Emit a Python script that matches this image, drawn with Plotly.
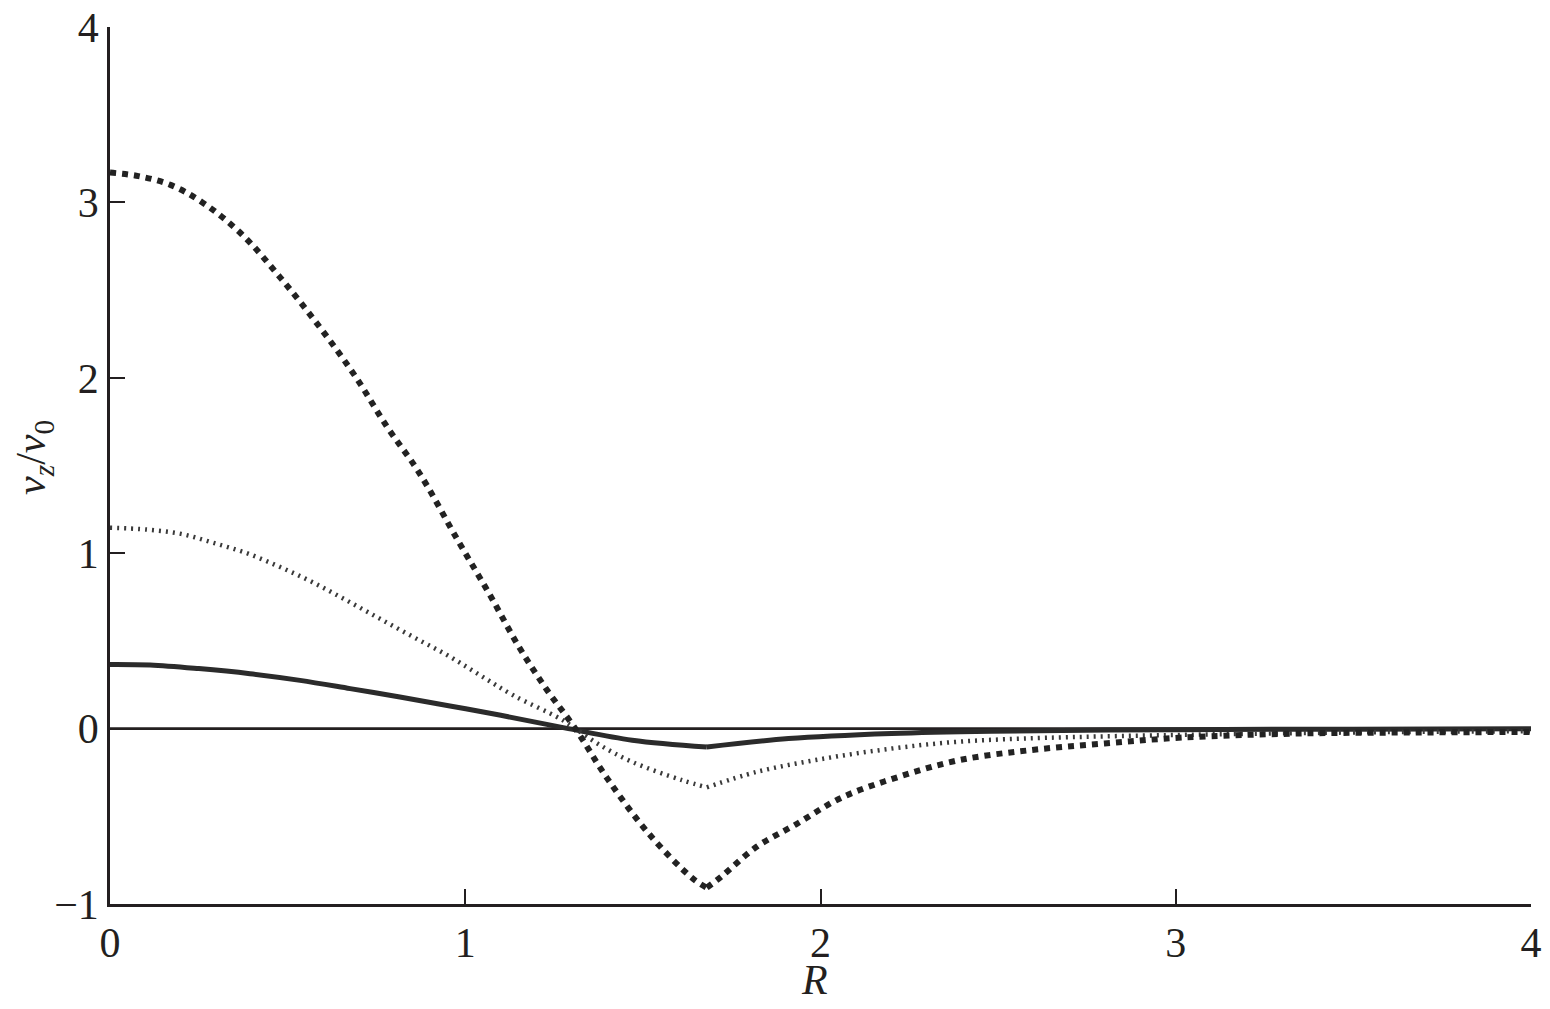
import plotly.graph_objects as go

# Thick dotted curve
R_a = [0.0, 0.08, 0.17, 0.26, 0.37, 0.48, 0.59, 0.69, 0.78, 0.87, 0.98, 1.07, 1.15, 1.23, 1.31,
       1.40, 1.52, 1.64, 1.68, 1.72, 1.82, 1.93, 2.06, 2.22, 2.39, 2.59, 2.80, 3.02, 3.35, 3.70, 4.0]
V_a = [3.17, 3.15, 3.10, 3.00, 2.82, 2.57, 2.29, 2.01, 1.72, 1.46, 1.07, 0.76, 0.47, 0.22, 0.0,
       -0.285, -0.607, -0.854, -0.907, -0.845, -0.674, -0.547, -0.393, -0.275, -0.18, -0.123, -0.085, -0.051, -0.028, -0.022, -0.019]

# Fine dotted curve
R_b = [0.0, 0.103, 0.2, 0.291, 0.385, 0.479, 0.57, 0.666, 0.76, 0.854, 0.95, 1.042, 1.135, 1.267, 1.31,
       1.38, 1.47, 1.61, 1.68, 1.82, 2.01, 2.20, 2.38, 2.57, 2.85, 3.2, 3.6, 4.0]
V_b = [1.145, 1.135, 1.11, 1.059, 1.00, 0.921, 0.835, 0.731, 0.626, 0.522, 0.418, 0.304, 0.19, 0.057, 0.0,
       -0.095, -0.19, -0.294, -0.335, -0.247, -0.171, -0.114, -0.076, -0.057, -0.042, -0.03, -0.02, -0.015]

# Solid curve
R_c = [0.0, 0.113, 0.25, 0.394, 0.535, 0.676, 0.816, 0.957, 1.10, 1.29, 1.47, 1.68, 1.91, 2.20, 2.48, 3.0, 3.5, 4.0]
V_c = [0.366, 0.363, 0.342, 0.313, 0.275, 0.228, 0.18, 0.129, 0.076, 0.0, -0.066, -0.105, -0.057, -0.028, -0.015, -0.006, -0.003, -0.001]

R_cusp = 1.68  # location of the sharp minimum shared by all curves

x_ticks = [0, 1, 2, 3, 4]
y_ticks = [-1, 0, 1, 2, 3, 4]
y_tick_text = ["\u22121", "0", "1", "2", "3", "4"]

fig = go.Figure()
fig.add_trace(go.Scatter(x=[0, 4], y=[0, 0], mode="lines",
                         line=dict(color="#231f20", width=2.7), showlegend=False, hoverinfo="skip"))


def add_curve(R, V, line):
    k = R.index(R_cusp)
    for xs, ys in ((R[:k + 1], V[:k + 1]), (R[k:], V[k:])):
        fig.add_trace(go.Scatter(x=xs, y=ys, mode="lines", line=line, showlegend=False))


add_curve(R_c, V_c, dict(color="#2b2b2b", width=5, shape="spline", smoothing=1.0))
add_curve(R_b, V_b, dict(color="#3a3a3a", width=4.5, dash="2px,5px", shape="spline", smoothing=1.0))
add_curve(R_a, V_a, dict(color="#222222", width=6, dash="6px,6px", shape="spline", smoothing=1.0))

font = dict(family="Liberation Serif, serif", size=42, color="#231f20")
fig.update_layout(
    width=1542, height=1001,
    margin=dict(l=102, r=19, t=19, b=105),
    paper_bgcolor="white", plot_bgcolor="white",
    font=font,
    xaxis=dict(range=[0, 4], tickvals=x_ticks, ticktext=[str(t) for t in x_ticks],
               showgrid=False, zeroline=False, showline=True, linecolor="#231f20", linewidth=2.5,
               ticks="inside", ticklen=15, tickwidth=2, tickcolor="#231f20", automargin=False,
               ticklabeloverflow="allow"),
    yaxis=dict(range=[-1, 4], tickvals=y_ticks, ticktext=y_tick_text,
               showgrid=False, zeroline=False, showline=True, linecolor="#231f20", linewidth=2.5,
               ticks="inside", ticklen=15, tickwidth=2, tickcolor="#231f20", automargin=False,
               ticklabeloverflow="allow"),
    annotations=[
        dict(text="<i>R</i>", xref="paper", yref="paper", x=0.496, y=-0.0867,
             xanchor="center", yanchor="middle", showarrow=False, font=font),
        dict(text="<i>v</i><sub><i>z</i></sub>/<i>v</i><sub>0</sub>", xref="paper", yref="paper",
             x=-0.0535, y=0.5097, xanchor="center", yanchor="middle", textangle=-90,
             showarrow=False, font=font),
    ],
)
fig.write_html("out.html")
